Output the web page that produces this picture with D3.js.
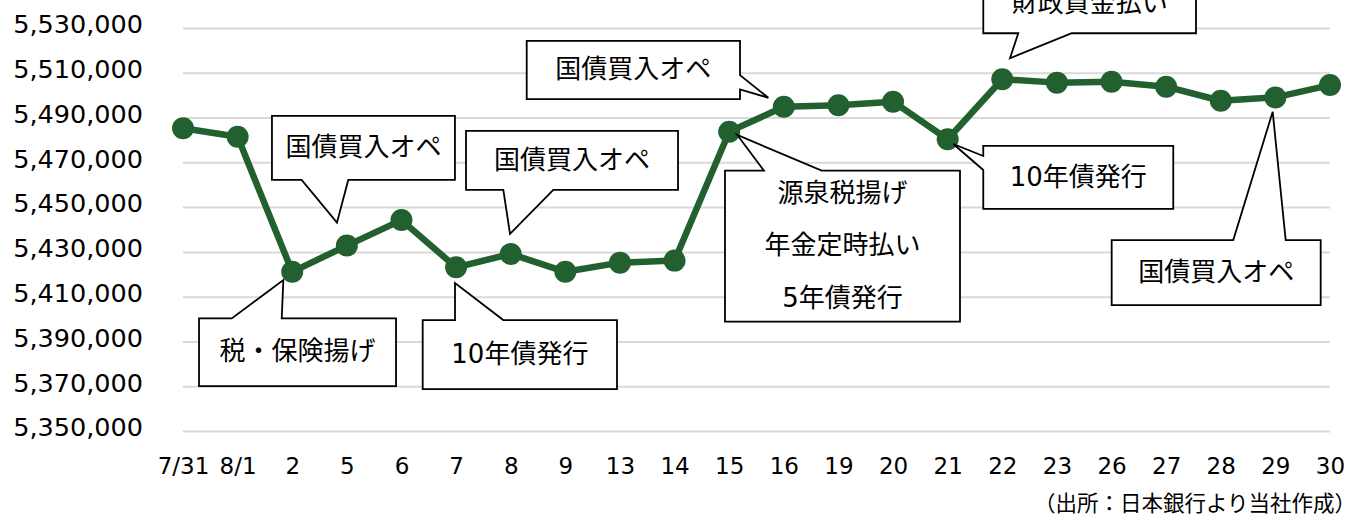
<!DOCTYPE html>
<html lang="ja">
<head>
<meta charset="utf-8">
<script src="https://cdn.jsdelivr.net/npm/d3@7"></script>
<style>
  html, body { margin: 0; padding: 0; background: #ffffff; }
  #chart { width: 1361px; height: 521px; }
</style>
</head>
<body>
<div id="chart"></div>
<script>
// 日銀当座預金残高（8月）
const categories = ["7/31", "8/1", "2", "5", "6", "7", "8", "9", "13", "14", "15",
  "16", "19", "20", "21", "22", "23", "26", "27", "28", "29", "30"];

const values = [5485200, 5481400, 5421100, 5432800, 5444200, 5423100, 5429100,
  5421100, 5425200, 5426100, 5483700, 5494800, 5495500, 5497100, 5480300,
  5507100, 5505600, 5506000, 5503800, 5497500, 5499000, 5504500];

const yTicks = [5350000, 5370000, 5390000, 5410000, 5430000, 5450000,
  5470000, 5490000, 5510000, 5530000];

const noteTexts = [
  ["税・保険揚げ"],
  ["国債買入オペ"],
  ["10年債発行"],
  ["国債買入オペ"],
  ["源泉税揚げ", "年金定時払い", "5年債発行"],
  ["国債買入オペ"],
  ["10年債発行"],
  ["財政資金払い"],
  ["国債買入オペ"]
];
const noteCategories = ["2", "5", "7", "8", "15", "16", "21", "22", "29"];

const sourceText = "（出所：日本銀行より当社作成）";

function drawChart(containerSelector) {
  const container = d3.select(containerSelector);
  const width = 1361;
  const height = 521;

  const colorLinea = "#22602f";
  const colorGrid = "#d9d9d9";
  const colorTexto = "#000000";
  const fontLatin = "'DejaVu Sans', Verdana, 'Noto Sans CJK JP', sans-serif";

  const plot = { left: 183, right: 1330, top: 28, bottom: 431 };

  const svg = container.append("svg")
    .attr("width", width)
    .attr("height", height)
    .attr("viewBox", `0 0 ${width} ${height}`)
    .style("background", "#ffffff");

  const x = d3.scalePoint()
    .domain(categories)
    .range([plot.left, plot.right]);

  const y = d3.scaleLinear()
    .domain([yTicks[0], yTicks[yTicks.length - 1]])
    .range([plot.bottom, plot.top]);

  // rejilla
  svg.append("g")
    .attr("transform", `translate(${plot.left},0)`)
    .call(d3.axisLeft(y).tickValues(yTicks).tickSize(-(plot.right - plot.left)).tickFormat(""))
    .call(g => g.select(".domain").remove())
    .selectAll("line")
    .attr("stroke", colorGrid)
    .attr("stroke-width", 2);

  // eje Y
  const yAxis = svg.append("g")
    .attr("transform", `translate(${plot.left - 40},0)`)
    .call(d3.axisLeft(y).tickValues(yTicks).tickSize(0).tickPadding(0).tickFormat(d3.format(",")));
  yAxis.select(".domain").remove();
  yAxis.selectAll("text")
    .attr("fill", colorTexto)
    .attr("font-family", fontLatin)
    .attr("font-size", 25.5)
    .attr("dy", "0.19em")
    .attr("x", 0);

  // eje X
  const xAxis = svg.append("g")
    .attr("transform", `translate(0,${plot.bottom})`)
    .call(d3.axisBottom(x).tickSize(0).tickPadding(0));
  xAxis.select(".domain").remove();
  xAxis.selectAll("text")
    .attr("fill", colorTexto)
    .attr("font-family", fontLatin)
    .attr("font-size", 23)
    .attr("y", 43)
    .attr("dy", 0);

  const serie = categories.map((c, i) => ({ cat: c, v: values[i] }));

  svg.append("path")
    .datum(serie)
    .attr("fill", "none")
    .attr("stroke", colorLinea)
    .attr("stroke-width", 6.5)
    .attr("stroke-linejoin", "round")
    .attr("d", d3.line().x(d => x(d.cat)).y(d => y(d.v)));

  svg.selectAll("circle.pt")
    .data(serie)
    .join("circle")
    .attr("class", "pt")
    .attr("cx", d => x(d.cat))
    .attr("cy", d => y(d.v))
    .attr("r", 11)
    .attr("fill", colorLinea);

  // callouts: box [x0, x1, y0, y1], tip and wedge base, relative to the anchored point
  const noteLayout = [
    { box: [-93.2, 103.8, 46.6, 114.3], tip: [-8.9, 8.3], side: "top", base: [-60.5, -10.5] },
    { box: [-74.9, 108.1, -129.7, -65.7], tip: [-9.9, -23], side: "bottom", base: [-45.2, 1.4] },
    { box: [-33.4, 160.9, 52.7, 121.7], tip: [-1.1, 15.7], side: "top", base: [-1.1, 47.2] },
    { box: [-44.7, 167.3, -123, -64], tip: [-0.7, -20], side: "bottom", base: [-7.4, 42.6] },
    { box: [-4.2, 230.8, 39, 190], tip: [8.1, 3.3], side: "top", base: [34.8, 92.5], lineGap: 52.5 },
    { box: [-257.1, -43.8, -66, -7.7], tip: [-15.5, -9], side: "right", base: [-31.7, -17.4] },
    { box: [35.6, 225.6, 6.7, 69.7], tip: [5.6, 4.7], side: "left", base: [16.7, 30.7] },
    { box: [-19, 193.7, -105.3, -46], tip: [7.7, -21], side: "bottom", base: [16, 69.4] },
    { box: [-163.7, 45.3, 142.7, 207.7], tip: [-2.7, 14.4], side: "top", base: [-42.1, 10.3] }
  ];

  function calloutPath(l, ax, ay) {
    const [bx0, bx1, by0, by1] = l.box;
    const x0 = ax + bx0, x1 = ax + bx1, y0 = ay + by0, y1 = ay + by1;
    const tx = ax + l.tip[0], ty = ay + l.tip[1];
    const p = d3.path();
    p.moveTo(x0, y0);
    if (l.side === "top") {
      p.lineTo(ax + l.base[0], y0); p.lineTo(tx, ty); p.lineTo(ax + l.base[1], y0);
    }
    p.lineTo(x1, y0);
    if (l.side === "right") {
      p.lineTo(x1, ay + l.base[0]); p.lineTo(tx, ty); p.lineTo(x1, ay + l.base[1]);
    }
    p.lineTo(x1, y1);
    if (l.side === "bottom") {
      p.lineTo(ax + l.base[1], y1); p.lineTo(tx, ty); p.lineTo(ax + l.base[0], y1);
    }
    p.lineTo(x0, y1);
    if (l.side === "left") {
      p.lineTo(x0, ay + l.base[1]); p.lineTo(tx, ty); p.lineTo(x0, ay + l.base[0]);
    }
    p.closePath();
    return p.toString();
  }

  const notas = svg.append("g").attr("class", "notas");
  noteTexts.forEach((lines, i) => {
    const l = noteLayout[i];
    const idx = categories.indexOf(noteCategories[i]);
    const ax = x(categories[idx]);
    const ay = y(values[idx]);
    notas.append("path")
      .attr("d", calloutPath(l, ax, ay))
      .attr("fill", "#ffffff")
      .attr("stroke", "#000000")
      .attr("stroke-width", 1.8)
      .attr("stroke-linejoin", "miter");

    const cx = ax + (l.box[0] + l.box[1]) / 2;
    const cy = ay + (l.box[2] + l.box[3]) / 2 - 1.5;
    const gap = l.lineGap || 0;
    lines.forEach((t, k) => {
      const off = (k - (lines.length - 1) / 2) * gap;
      notas.append("text")
        .attr("x", cx)
        .attr("y", cy + off + 9.6)
        .attr("text-anchor", "middle")
        .attr("fill", colorTexto)
        .attr("font-family", fontLatin)
        .attr("font-size", 26)
        .text(t);
    });
  });

  svg.append("text")
    .attr("x", 1356)
    .attr("y", 511)
    .attr("text-anchor", "end")
    .attr("fill", colorTexto)
    .attr("font-family", "'Noto Sans CJK JP', sans-serif")
    .attr("font-size", 21.5)
    .text(sourceText);
}

drawChart("#chart");
</script>
</body>
</html>
